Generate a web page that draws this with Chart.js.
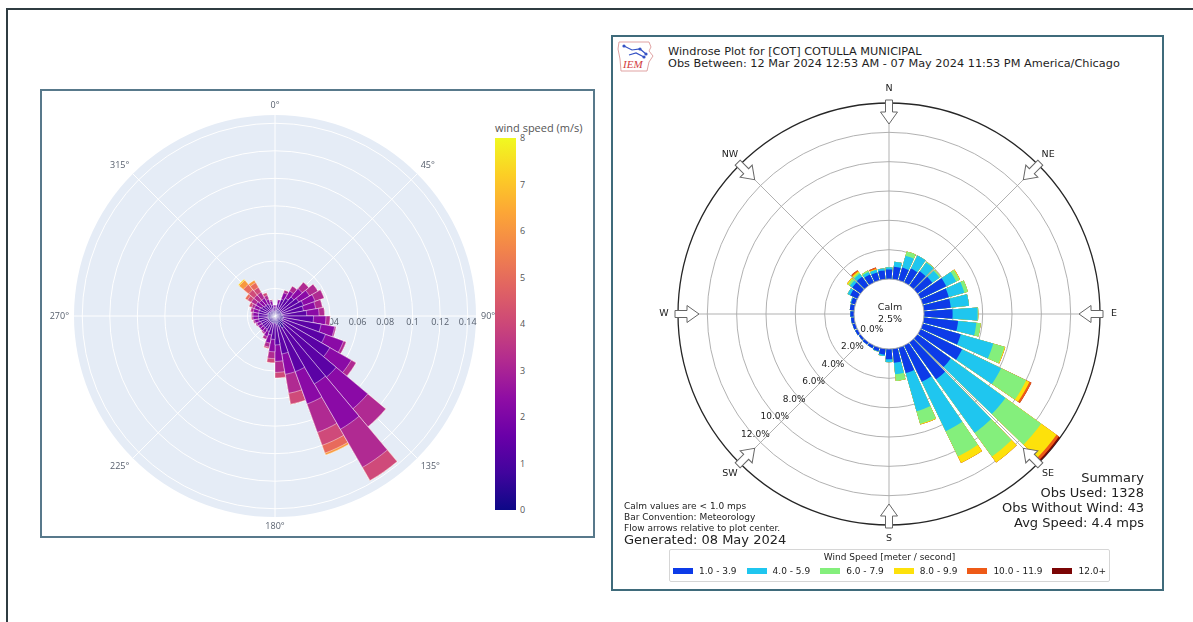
<!DOCTYPE html>
<html>
<head>
<meta charset="utf-8">
<title>Wind roses – Cotulla</title>
<script src="https://cdn.jsdelivr.net/npm/chart.js@4.4.1/dist/chart.umd.min.js"></script>
<style>
  html, body { margin: 0; padding: 0; }
  body { width: 1193px; height: 622px; position: relative; overflow: hidden; background: #fff; font-family: "DejaVu Sans", sans-serif; color: #222; }
  .abs { position: absolute; }
  #frame { left: 6px; top: 8px; width: 1220px; height: 700px; border-left: 2px solid #2f3c41; border-top: 2px solid #2f3c41; }
  #leftBox { left: 40px; top: 89px; width: 551px; height: 445px; border: 2px solid #58798b; }
  #rightBox { left: 611px; top: 35px; width: 549px; height: 552px; border: 2px solid #3f6b7b; }
  canvas { position: absolute; }
  #cbar { left: 495px; top: 138px; width: 21px; height: 372px; }
  .cbtick { font: 9px "Open Sans", sans-serif; color: #555; line-height: 10px; }
  #cbTitle { left: 495px; top: 120px; font: 11px "Open Sans", sans-serif; color: #555; white-space: nowrap; }
  .title { left: 668px; font-size: 11.3px; white-space: nowrap; color: #1e1e1e; }
  .note { left: 624px; font-size: 9px; white-space: nowrap; color: #222; }
  .summary { right: 49px; font-size: 13px; text-align: right; white-space: nowrap; color: #222; }
  #legend { left: 669px; top: 549px; width: 439px; height: 31px; border: 1px solid #d6d6d6; border-radius: 2px; }
  #legendTitle { position: absolute; left: 0; right: 0; top: 2px; text-align: center; font-size: 9px; color: #222; white-space: nowrap; }
  #legendRow { position: absolute; left: 0; right: 0; top: 16px; display: flex; justify-content: center; align-items: center; font-size: 9px; color: #222; white-space: nowrap; }
  .item { display: flex; align-items: center; margin: 0 5px; white-space: nowrap; }
  .sw { width: 20px; height: 6px; margin-right: 6px; flex: none; }
</style>
</head>
<body>
<div id="frame" class="abs"></div>
<div id="leftBox" class="abs"></div>
<div id="rightBox" class="abs"></div>

<div id="cbar" class="abs"></div>
<div id="cbTitle" class="abs">wind speed (m/s)</div>
<div id="cbTicks"></div>

<canvas id="leftRose" width="460" height="460" style="left:45px;top:86px"></canvas>

<svg class="abs" style="left:616px;top:38px" width="40" height="36" viewBox="0 0 40 36">
  <path d="M3 4 L33 4 L35 9 L33 13 L37 18 L33 24 L31 33 L5 33 L4 21 L2 11 Z" fill="none" stroke="#e0a3a3" stroke-width="1"/>
  <path d="M8 8 L16 12 L24 11 L30 16" fill="none" stroke="#3552c4" stroke-width="1.2"/>
  <path d="M13 17 L20 15 L28 19" fill="none" stroke="#3552c4" stroke-width="1.2"/>
  <circle cx="8" cy="8" r="1.6" fill="#3552c4"/><circle cx="24" cy="11" r="1.6" fill="#3552c4"/>
  <circle cx="30" cy="16" r="1.6" fill="#3552c4"/><circle cx="28" cy="19" r="1.6" fill="#3552c4"/>
  <text x="7" y="30" font-family="Liberation Serif" font-style="italic" font-size="11" fill="#d23b3b">IEM</text>
</svg>
<div class="abs title" style="top:45px">Windrose Plot for [COT] COTULLA MUNICIPAL</div>
<div class="abs title" style="top:57px">Obs Between: 12 Mar 2024 12:53 AM - 07 May 2024 11:53 PM America/Chicago</div>

<canvas id="rightRose" width="480" height="480" style="left:649px;top:74px"></canvas>

<div class="abs note" style="top:501px">Calm values are &lt; 1.0 mps</div>
<div class="abs note" style="top:512px">Bar Convention: Meteorology</div>
<div class="abs note" style="top:523px">Flow arrows relative to plot center.</div>
<div class="abs note" style="top:532px;font-size:13px">Generated: 08 May 2024</div>

<div class="abs summary" style="top:470px">Summary</div>
<div class="abs summary" style="top:485px">Obs Used: 1328</div>
<div class="abs summary" style="top:500px">Obs Without Wind: 43</div>
<div class="abs summary" style="top:515px">Avg Speed: 4.4 mps</div>

<div id="legend" class="abs">
  <div id="legendTitle">Wind Speed [meter / second]</div>
  <div id="legendRow"></div>
</div>

<script>
// ---------------- Left rose: frequency by direction, stacked by 1 m/s speed bins ----------------
const leftDirections = [5, 15, 25, 35, 45, 55, 65, 75, 85, 95, 105, 115, 125, 135, 145, 155, 165, 175,
  185, 195, 205, 215, 225, 235, 245, 255, 265, 275, 285, 295, 305, 315, 325, 335, 345, 355];
const leftSpeed0to1 = [.003, .004, .005, .005, .005, .005, .005, .005, .005, .006, .006, .006, .006, .008, .010, .008, .006, .005,
  .005, .005, .005, .005, .005, .005, .005, .005, .005, .005, .005, .005, .004, .004, .004, .004, .004, .003];
const leftSpeed1to2 = [.003, .005, .008, .010, .013, .015, .017, .016, .018, .022, .028, .033, .040, .050, .047, .035, .022, .016,
  .012, .009, .007, .006, .006, .006, .006, .007, .007, .007, .007, .007, .007, .006, .006, .005, .004, .003];
const leftSpeed2to3 = [.002, .003, .005, .006, .008, .009, .009, .009, .009, .009, .010, .014, .018, .030, .038, .025, .015, .012,
  .009, .006, .004, .003, .003, .003, .003, .003, .004, .004, .004, .004, .005, .005, .005, .004, .003, .002];
const leftSpeed3to4 = [0, 0, .002, .004, .006, .007, .007, .005, .004, .003, .001, .002, .004, .017, .032, .022, .014, .008,
  .005, .003, .002, .001, 0, 0, .001, .001, .001, .001, .002, .002, .004, .005, .005, .003, .001, 0];
const leftSpeed4to5 = [0, 0, 0, 0, 0, 0, 0, 0, 0, 0, 0, 0, 0, 0, .011, .010, .008, .004,
  .003, .001, 0, 0, 0, 0, 0, 0, 0, 0, 0, .002, .003, .005, .004, .002, 0, 0];
const leftSpeed5to6 = [0, 0, 0, 0, 0, 0, 0, 0, 0, 0, 0, 0, 0, 0, 0, .006, 0, 0,
  0, 0, 0, 0, 0, 0, 0, 0, 0, 0, 0, 0, .002, .005, .004, 0, 0, 0];
const leftSpeed6to7 = [0, 0, 0, 0, 0, 0, 0, 0, 0, 0, 0, 0, 0, 0, 0, .0015, 0, 0,
  0, 0, 0, 0, 0, 0, 0, 0, 0, 0, 0, 0, 0, .004, .002, 0, 0, 0];
const leftSpeed7to8 = [0, 0, 0, 0, 0, 0, 0, 0, 0, 0, 0, 0, 0, 0, 0, 0, 0, 0,
  0, 0, 0, 0, 0, 0, 0, 0, 0, 0, 0, 0, 0, .001, 0, 0, 0, 0];
// plasma colour for each speed bin (scale 0–8 m/s)
const leftColors = ['#2a0593', '#5b02a5', '#8a0aa6', '#b02a92', '#cf4a7a', '#e86a5c', '#f8983e', '#fbd02a'];
const leftRadialTicks = [0, 0.02, 0.04, 0.06, 0.08, 0.1, 0.12, 0.14];
const leftAngleTicks = [0, 45, 90, 135, 180, 225, 270, 315];
const colorbarTicks = [0, 1, 2, 3, 4, 5, 6, 7, 8];
const LEFT_RANGE_MAX = 0.146;   // radial range shown inside the polar disc

// ---------------- Right rose: percent of obs, IEM speed classes ----------------
const rightDirections = [0, 10, 20, 30, 40, 50, 60, 70, 80, 90, 100, 110, 120, 130, 140, 150, 160, 170,
  180, 190, 200, 210, 220, 230, 240, 250, 260, 270, 280, 290, 300, 310, 320, 330, 340, 350];
const rightSpeed1to4 = [0.65, 0.85, 0.9, 1.05, 1.2, 1.25, 1.95, 1.85, 1.85, 1.95, 2.35, 2.7, 3.15, 2.8, 3.1, 2.75, 1.8, 0.95,
  0.7, 0.4, 0.25, 0.2, 0.18, 0.15, 0.18, 0.2, 0.22, 0.25, 0.3, 0.3, 0.55, 0.7, 0.75, 0.6, 0.55, 0.6];
const rightSpeed4to6 = [0.15, 0.35, 0.85, 1.0, 0.75, 0.6, 0.75, 1.1, 1.25, 1.7, 1.25, 2.3, 2.95, 4.6, 4.5, 3.75, 2.7, 0.8,
  0.2, 0.1, 0.03, 0, 0, 0, 0, 0, 0, 0, 0, 0.05, 0.2, 0.2, 0.25, 0.2, 0.2, 0.15];
const rightSpeed6to8 = [0, 0, 0.3, 0, 0.05, 0.1, 0.25, 0.25, 0, 0.05, 0.3, 0.8, 1.9, 3.0, 2.0, 1.9, 0.9, 0.45,
  0, 0, 0, 0, 0, 0, 0, 0, 0, 0, 0, 0, 0, 0.15, 0.1, 0.1, 0, 0];
const rightSpeed8to10 = [0, 0, 0, 0, 0, 0, 0.05, 0, 0, 0, 0, 0.05, 0.25, 1.3, 0.5, 0.5, 0.05, 0,
  0, 0, 0, 0, 0, 0, 0, 0, 0, 0, 0, 0, 0, 0.1, 0.1, 0, 0.05, 0];
const rightSpeed10to12 = [0, 0, 0, 0, 0, 0, 0, 0, 0, 0, 0, 0, 0.15, 0.2, 0, 0, 0, 0,
  0, 0, 0, 0, 0, 0, 0, 0, 0, 0, 0, 0, 0, 0, 0.1, 0, 0.1, 0];
const rightSpeed12plus = [0, 0, 0, 0, 0, 0, 0, 0, 0, 0, 0, 0, 0, 0.1, 0, 0, 0, 0,
  0, 0, 0, 0, 0, 0, 0, 0, 0, 0, 0, 0, 0, 0, 0, 0, 0, 0];
const rightBinLabels = ['1.0 - 3.9', '4.0 - 5.9', '6.0 - 7.9', '8.0 - 9.9', '10.0 - 11.9', '12.0+'];
const rightColors = ['#0d3be8', '#1fc6ef', '#84ef7c', '#fde10b', '#ee5a17', '#7b0505'];
const rightRingTicks = [0, 2, 4, 6, 8, 10, 12];
const compassNames = ['N', 'NE', 'E', 'SE', 'S', 'SW', 'W', 'NW'];
const compassBearings = [0, 45, 90, 135, 180, 225, 270, 315];
const calmPercent = 2.5;

// running totals: each ring of a bar is drawn as a wedge out to the cumulative value,
// smaller totals sit on top of larger ones
function cumulative(series) {
  let run = series[0].map(() => 0);
  return series.map(s => (run = run.map((v, i) => v + s[i])));
}
const rad = d => d * Math.PI / 180;

// ---------------- colour bar ----------------
(function () {
  const stops = ['#0d0887', '#41049d', '#6a00a8', '#8f0da4', '#b12a90', '#cc4778', '#e16462', '#f2844b', '#fca636', '#fcce25', '#f0f921'];
  document.getElementById('cbar').style.background =
    'linear-gradient(to top,' + stops.map((c, i) => c + ' ' + (i * 10) + '%').join(',') + ')';
  const holder = document.getElementById('cbTicks');
  const top = 138, h = 372, vmax = colorbarTicks[colorbarTicks.length - 1];
  colorbarTicks.forEach(t => {
    const d = document.createElement('div');
    d.className = 'abs cbtick';
    d.style.left = '520px';
    d.style.top = (top + h - h * t / vmax - 5) + 'px';
    d.textContent = String(t);
    holder.appendChild(d);
  });
})();

// ---------------- left rose ----------------
const LEFT_AREA = 230, LEFT_PLOT_PX = 201;
const leftSeries = [leftSpeed0to1, leftSpeed1to2, leftSpeed2to3, leftSpeed3to4, leftSpeed4to5, leftSpeed5to6, leftSpeed6to7, leftSpeed7to8];
const leftStacks = cumulative(leftSeries);

const leftDecor = {
  id: 'leftDecor',
  beforeDraw(chart) {
    const s = chart.scales.r, ctx = chart.ctx;
    ctx.save();
    ctx.beginPath();
    ctx.arc(s.xCenter, s.yCenter, s.getDistanceFromCenterForValue(LEFT_RANGE_MAX), 0, Math.PI * 2);
    ctx.fillStyle = '#e5ecf6';
    ctx.fill();
    ctx.restore();
  },
  beforeDatasetsDraw(chart) {
    const s = chart.scales.r, ctx = chart.ctx;
    const outer = s.getDistanceFromCenterForValue(LEFT_RANGE_MAX);
    ctx.save();
    ctx.strokeStyle = '#ffffff';
    ctx.lineWidth = 1;
    leftAngleTicks.forEach(b => {
      const a = rad(b - 90);
      ctx.beginPath();
      ctx.moveTo(s.xCenter, s.yCenter);
      ctx.lineTo(s.xCenter + outer * Math.cos(a), s.yCenter + outer * Math.sin(a));
      ctx.stroke();
    });
    ctx.fillStyle = '#58606e';
    ctx.font = '9px "Open Sans", sans-serif';
    ctx.textAlign = 'center';
    ctx.textBaseline = 'middle';
    leftRadialTicks.forEach(v => {
      ctx.fillText(String(v), s.xCenter + s.getDistanceFromCenterForValue(v), s.yCenter + 6);
    });
    ctx.restore();
  },
  afterDatasetsDraw(chart) {
    const s = chart.scales.r, ctx = chart.ctx;
    const d = s.getDistanceFromCenterForValue(LEFT_RANGE_MAX) + 5;
    ctx.save();
    ctx.fillStyle = '#58606e';
    ctx.font = '9px "Open Sans", sans-serif';
    leftAngleTicks.forEach(b => {
      const sx = Math.sin(rad(b)), cy = Math.cos(rad(b));
      ctx.textAlign = sx > 0.3 ? 'left' : sx < -0.3 ? 'right' : 'center';
      ctx.textBaseline = cy > 0.3 ? 'bottom' : cy < -0.3 ? 'top' : 'middle';
      ctx.fillText(b + '°', s.xCenter + d * sx, s.yCenter - d * cy);
    });
    ctx.restore();
  }
};

new Chart(document.getElementById('leftRose'), {
  type: 'polarArea',
  data: {
    labels: leftDirections.map(d => d + '°'),
    datasets: leftStacks.map((data, k) => ({
      data,
      backgroundColor: leftColors[k],
      borderColor: 'rgba(255,255,255,0.55)',
      borderWidth: 0.8
    }))
  },
  options: {
    responsive: false,
    animation: false,
    events: [],
    layout: { padding: 0 },
    plugins: { legend: { display: false }, tooltip: { enabled: false } },
    scales: {
      r: {
        display: true,
        min: 0,
        max: LEFT_RANGE_MAX * LEFT_AREA / LEFT_PLOT_PX,
        startAngle: 0,
        ticks: { display: false, stepSize: 0.02 },
        afterBuildTicks: scale => { scale.ticks = leftRadialTicks.map(value => ({ value })); },
        grid: { display: true, circular: true, color: '#ffffff', lineWidth: 1 },
        angleLines: { display: false },
        pointLabels: { display: false }
      }
    }
  },
  plugins: [leftDecor]
});

// ---------------- right rose ----------------
const RIGHT_AREA = 240, CALM_PX = 35, OUTER_PX = 211, RING_MAX = 12, BAR_GAP_DEG = 0.8;
const rSpan = RING_MAX * RIGHT_AREA / (OUTER_PX - CALM_PX);
const rMin = -CALM_PX / RIGHT_AREA * rSpan;
const rightSeries = [rightSpeed1to4, rightSpeed4to6, rightSpeed6to8, rightSpeed8to10, rightSpeed10to12, rightSpeed12plus];
const rightStacks = cumulative(rightSeries);

function flowArrow(ctx, s, bearing, R) {
  ctx.save();
  ctx.translate(s.xCenter, s.yCenter);
  ctx.rotate(rad(bearing));
  ctx.beginPath();
  ctx.moveTo(-3.5, -(R + 3));
  ctx.lineTo(3.5, -(R + 3));
  ctx.lineTo(3.5, -(R - 9));
  ctx.lineTo(8.5, -(R - 9));
  ctx.lineTo(0, -(R - 21));
  ctx.lineTo(-8.5, -(R - 9));
  ctx.lineTo(-3.5, -(R - 9));
  ctx.closePath();
  ctx.fillStyle = '#ffffff';
  ctx.fill();
  ctx.strokeStyle = '#666';
  ctx.lineWidth = 1;
  ctx.stroke();
  ctx.restore();
}

const rightDecor = {
  id: 'rightDecor',
  afterDatasetsUpdate(chart) {
    const g = rad(BAR_GAP_DEG);
    chart.data.datasets.forEach((ds, i) => {
      chart.getDatasetMeta(i).data.forEach(arc => { arc.startAngle += g; arc.endAngle -= g; });
    });
  },
  beforeDatasetsDraw(chart) {
    const s = chart.scales.r, ctx = chart.ctx;
    const r0 = s.getDistanceFromCenterForValue(0), r1 = s.getDistanceFromCenterForValue(RING_MAX);
    ctx.save();
    ctx.strokeStyle = '#a8a8a8';
    ctx.lineWidth = 0.9;
    compassBearings.forEach(b => {
      const a = rad(b - 90);
      ctx.beginPath();
      ctx.moveTo(s.xCenter + r0 * Math.cos(a), s.yCenter + r0 * Math.sin(a));
      ctx.lineTo(s.xCenter + r1 * Math.cos(a), s.yCenter + r1 * Math.sin(a));
      ctx.stroke();
    });
    ctx.restore();
  },
  afterDatasetsDraw(chart) {
    const s = chart.scales.r, ctx = chart.ctx;
    const r0 = s.getDistanceFromCenterForValue(0), R = s.getDistanceFromCenterForValue(RING_MAX);
    ctx.save();
    // calm disc
    ctx.beginPath();
    ctx.arc(s.xCenter, s.yCenter, r0, 0, Math.PI * 2);
    ctx.fillStyle = '#ffffff';
    ctx.fill();
    ctx.strokeStyle = '#a8a8a8';
    ctx.lineWidth = 0.9;
    ctx.stroke();
    ctx.restore();

    compassBearings.forEach(b => flowArrow(ctx, s, b, R));

    ctx.save();
    ctx.fillStyle = '#222';
    ctx.textAlign = 'center';
    ctx.textBaseline = 'middle';
    ctx.font = '9.5px "DejaVu Sans", sans-serif';
    compassBearings.forEach((b, i) => {
      const d = R + 14;
      ctx.fillText(compassNames[i], s.xCenter + d * Math.sin(rad(b)), s.yCenter - d * Math.cos(rad(b)));
    });
    ctx.font = '9px "DejaVu Sans", sans-serif';
    const la = rad(228);
    rightRingTicks.forEach(v => {
      const d = 0.89 * s.getDistanceFromCenterForValue(v) - 8;
      ctx.fillText(v.toFixed(1) + '%', s.xCenter + d * Math.sin(la), s.yCenter - d * Math.cos(la));
    });
    ctx.font = '9.5px "DejaVu Sans", sans-serif';
    ctx.fillText('Calm', s.xCenter + 1, s.yCenter - 6);
    ctx.fillText(calmPercent.toFixed(1) + '%', s.xCenter + 1, s.yCenter + 6);
    ctx.restore();
  }
};

new Chart(document.getElementById('rightRose'), {
  type: 'polarArea',
  data: {
    labels: rightDirections.map(d => d + '°'),
    datasets: rightStacks.map((data, k) => ({
      label: rightBinLabels[k],
      data,
      backgroundColor: rightColors[k],
      borderWidth: 0
    }))
  },
  options: {
    responsive: false,
    animation: false,
    events: [],
    layout: { padding: 0 },
    plugins: { legend: { display: false }, tooltip: { enabled: false } },
    scales: {
      r: {
        display: true,
        min: rMin,
        max: rMin + rSpan,
        startAngle: -5,
        ticks: { display: false, stepSize: 2 },
        afterBuildTicks: scale => { scale.ticks = rightRingTicks.map(value => ({ value })); },
        grid: {
          display: true,
          circular: true,
          color: ctx => (ctx.tick && ctx.tick.value === RING_MAX ? '#262626' : '#a8a8a8'),
          lineWidth: ctx => (ctx.tick && ctx.tick.value === RING_MAX ? 1.3 : 0.9)
        },
        angleLines: { display: false },
        pointLabels: { display: false }
      }
    }
  },
  plugins: [rightDecor]
});

// legend entries
(function () {
  const row = document.getElementById('legendRow');
  rightBinLabels.forEach((lab, k) => {
    const it = document.createElement('div');
    it.className = 'item';
    const sw = document.createElement('div');
    sw.className = 'sw';
    sw.style.background = rightColors[k];
    const tx = document.createElement('span');
    tx.textContent = lab;
    it.appendChild(sw);
    it.appendChild(tx);
    row.appendChild(it);
  });
})();
</script>
</body>
</html>
